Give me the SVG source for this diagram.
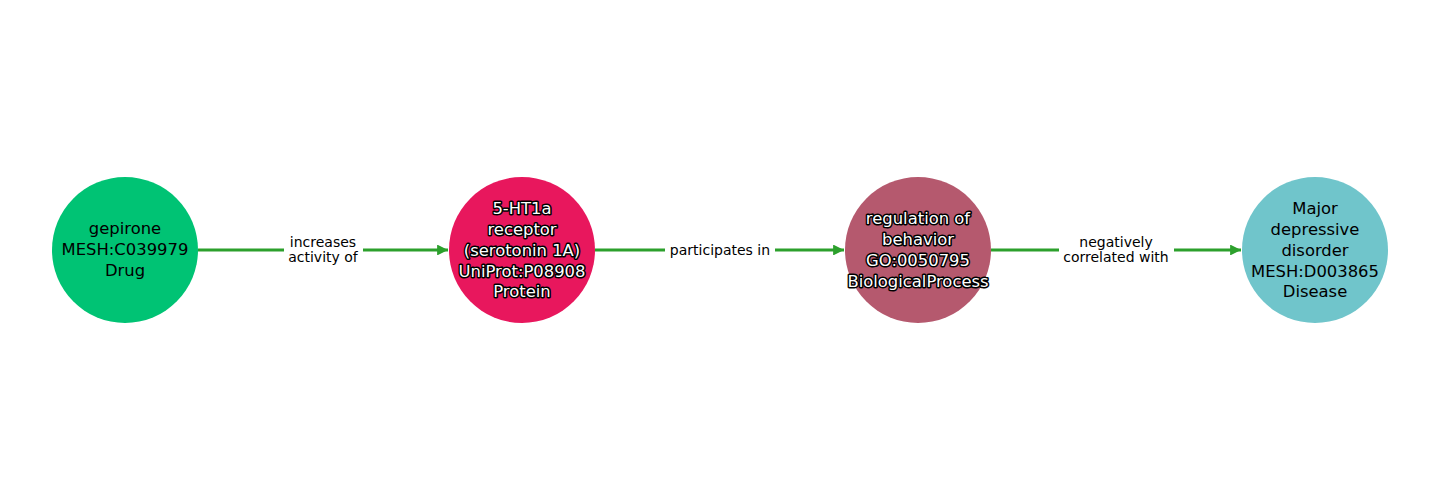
<svg xmlns="http://www.w3.org/2000/svg" width="1440" height="500" viewBox="0 0 1440 500">
<style>
.n text{font-family:"DejaVu Sans",sans-serif;font-size:16.4px;text-anchor:middle;dominant-baseline:central;fill:#000}
.n text.w{fill:#fff;stroke:#000;stroke-width:3px;paint-order:stroke;stroke-linejoin:round}
.e line{stroke:#2ca02c;stroke-width:3.2}
.e text{font-family:"DejaVu Sans",sans-serif;font-size:14px;text-anchor:middle;dominant-baseline:central;fill:#000}
.e rect{fill:#fff}
</style>
<defs>
<marker id="ah" viewBox="0 0 10 10" refX="10" refY="5" markerWidth="3.4" markerHeight="3.4" orient="auto" markerUnits="strokeWidth">
<path d="M0,0 L10,5 L0,10 Z" fill="#2ca02c"/>
</marker>
</defs>
<g id="connectors" class="e">
<line x1="198" y1="250" x2="448" y2="250" marker-end="url(#ah)"/>
<rect x="284" y="232" width="79" height="36"/>
<text x="323" y="242">increases</text>
<text x="323" y="257">activity of</text>
<line x1="595" y1="250" x2="844" y2="250" marker-end="url(#ah)"/>
<rect x="665" y="240" width="110" height="20"/>
<text x="720" y="250">participates in</text>
<line x1="991" y1="250" x2="1241" y2="250" marker-end="url(#ah)"/>
<rect x="1059" y="232" width="115" height="36"/>
<text x="1116" y="242">negatively</text>
<text x="1116" y="257">correlated with</text>
</g>
<g id="gepirone" class="n">
<circle cx="125" cy="250" r="73" fill="#00c374"/>
<text x="125" y="228">gepirone</text>
<text x="125" y="249">MESH:C039979</text>
<text x="125" y="270">Drug</text>
</g>
<g id="htr1a" class="n">
<circle cx="522" cy="250" r="73" fill="#e8175d"/>
<text class="w" x="522" y="208">5-HT1a</text>
<text class="w" x="522" y="229">receptor</text>
<text class="w" x="522" y="250">(serotonin 1A)</text>
<text class="w" x="522" y="271">UniProt:P08908</text>
<text class="w" x="522" y="291">Protein</text>
</g>
<g id="behavior" class="n">
<circle cx="918" cy="250" r="73" fill="#b5596e"/>
<text class="w" x="918" y="218">regulation of</text>
<text class="w" x="918" y="239">behavior</text>
<text class="w" x="918" y="260">GO:0050795</text>
<text class="w" x="918" y="281">BiologicalProcess</text>
</g>
<g id="mdd" class="n">
<circle cx="1315" cy="250" r="73" fill="#70c5cb"/>
<text x="1315" y="208">Major</text>
<text x="1315" y="229">depressive</text>
<text x="1315" y="250">disorder</text>
<text x="1315" y="271">MESH:D003865</text>
<text x="1315" y="291">Disease</text>
</g>
</svg>
